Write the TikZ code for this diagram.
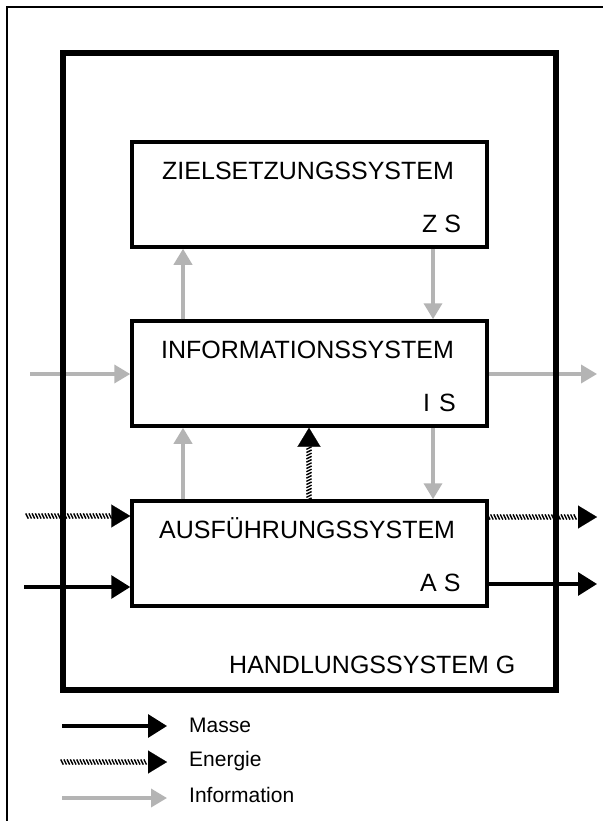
\documentclass[tikz,border=0pt]{standalone}
\usepackage{fontspec}
\setmainfont{Liberation Sans}
\usetikzlibrary{arrows.meta,decorations.markings}
\definecolor{infogray}{RGB}{180,180,180}
\tikzset{
 sysbox/.style={draw, line width=3.5pt, minimum width=355pt, minimum height=105pt, inner sep=0pt},
 boxtext/.style={font=\fontsize{25}{28}\selectfont, inner sep=0pt, anchor=base west},
 legtext/.style={font=\fontsize{21}{24}\selectfont, inner sep=0pt, anchor=base west},
 info/.style={draw=infogray, line width=3.5pt, -{Triangle[length=16pt,width=18pt]}},
 masse/.style={draw=black, line width=3.2pt, -{Triangle[length=19pt,width=23pt]}},
 energie/.style={draw=white, line width=0.1pt, -{Triangle[length=19pt,width=23pt,color=black]},
   postaction={decorate, decoration={markings,
     mark=between positions 0 and -19pt step 3.2pt with {\draw[black, line width=1.4pt, arrows=-] (-1.3pt,2.6pt)--(1.3pt,-2.6pt);}}}},
}
\begin{document}
\begin{tikzpicture}[x=1pt,y=-1pt]
\useasboundingbox (0,0) rectangle (603,821);
\fill[white] (0,0) rectangle (603,821);
\draw[line width=1.5pt] (7,821) -- (7,7) -- (603,7);

\node[sysbox] (zs) at (309.5,194.5) {};
\node[sysbox] (is) at (309.5,373.5) {};
\node[sysbox] (as) at (309.5,553.5) {};

\node[boxtext] (zst) at (162,179) {ZIELSETZUNGSSYSTEM};
\node[boxtext] (zsl) at (422,232) {Z S};
\node[boxtext] (ist) at (161,358) {INFORMATIONSSYSTEM};
\node[boxtext] (isl) at (423,411) {I\hspace{9pt}S};
\node[boxtext] (ast) at (159,538) {AUSFÜHRUNGSSYSTEM};
\node[boxtext] (asl) at (420,591) {A S};
\node[boxtext] (gt) at (229,673) {HANDLUNGSSYSTEM G};

\coordinate (xl) at (183,0);
\coordinate (xr) at (433,0);
\coordinate (xm) at (309,0);
\draw[info] (is.north -| xl) -- (zs.south -| xl);
\draw[info] (zs.south -| xr) -- (is.north -| xr);
\draw[info] (as.north -| xl) -- (is.south -| xl);
\draw[info] (is.south -| xr) -- (as.north -| xr);
\draw[energie] (as.north -| xm) -- (is.south -| xm);

\coordinate (iin) at (30,374);
\coordinate (iout) at (597,374);
\draw[info] (iin) -- (iin -| is.west);
\draw[info] (iin -| is.east) -- (iout);
\coordinate (ein) at (27,516);
\coordinate (eout) at (597,517);
\draw[energie] (ein) -- (ein -| as.west);
\draw[energie] (eout -| as.east) -- (eout);
\coordinate (min) at (24,587);
\coordinate (mout) at (597,584);
\draw[masse] (min) -- (min -| as.west);
\draw[masse] (mout -| as.east) -- (mout);

\node[draw, line width=5.5pt, minimum width=493pt, minimum height=637pt] (g) at (309.5,371.5) {};

\coordinate (l1a) at (62,726);
\coordinate (l1b) at (167,726);
\coordinate (l2a) at (62,762);
\coordinate (l2b) at (167,762);
\coordinate (l3a) at (62,798);
\coordinate (l3b) at (167,798);
\draw[masse] (l1a) -- (l1b);
\draw[energie] (l2a) -- (l2b);
\draw[info] (l3a) -- (l3b);
\node[legtext] (lm) at (189,732) {Masse};
\node[legtext] (le) at (189,766) {Energie};
\node[legtext] (li) at (189,802) {Information};
\end{tikzpicture}
\end{document}
